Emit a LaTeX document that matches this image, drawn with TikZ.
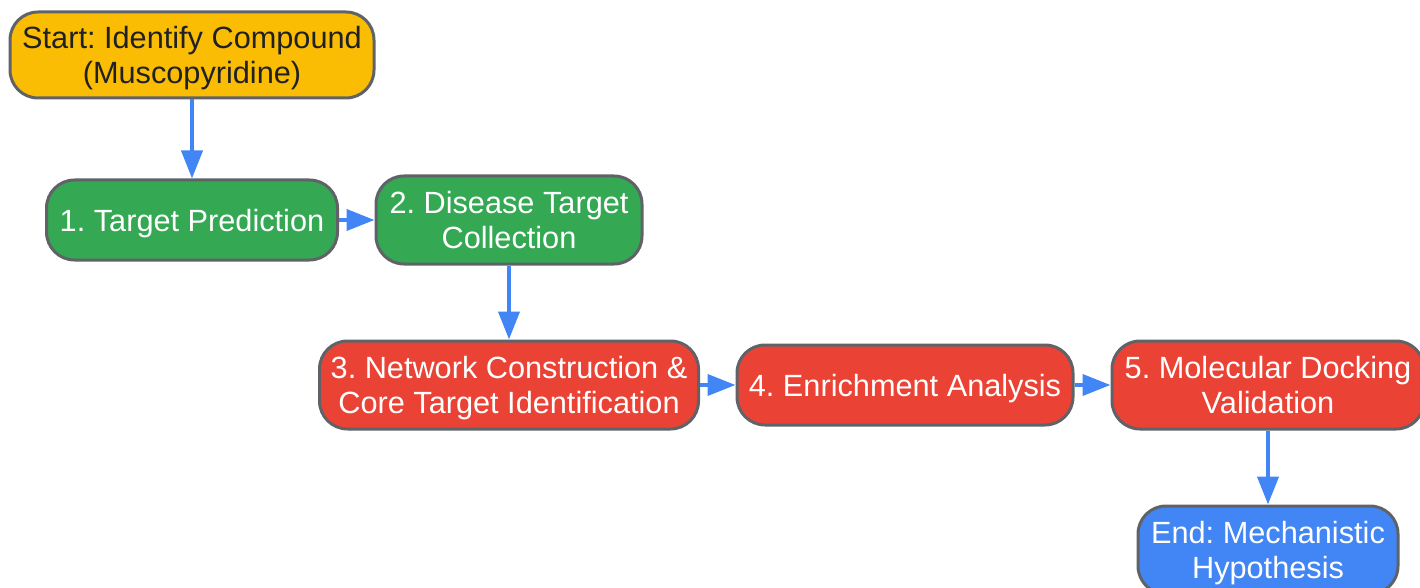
\documentclass[tikz,border=0pt]{standalone}
\usepackage{fontspec}
\setmainfont{Liberation Sans}
\usetikzlibrary{arrows.meta}
\definecolor{cY}{HTML}{FBBC04}
\definecolor{cG}{HTML}{34A853}
\definecolor{cR}{HTML}{EA4335}
\definecolor{cBl}{HTML}{4285F4}
\definecolor{cBorder}{HTML}{5F6368}
\definecolor{cText}{HTML}{202124}
\frenchspacing
\begin{document}
\begin{tikzpicture}[x=1pt,y=-1pt,
  box/.style={draw=cBorder, line width=3pt, rounded corners=28pt, align=center,
    font=\fontsize{30.7}{34.5}\selectfont\frenchspacing, inner sep=0pt, text=white, text depth=0pt},
  yel/.style={box, fill=cY, text=cText},
  grn/.style={box, fill=cG},
  red/.style={box, fill=cR},
  blu/.style={box, fill=cBl},
  arr/.style={draw=cBl, line width=4pt, -{Triangle[length=28pt,width=21pt]}}]
\useasboundingbox (0,0) rectangle (1420,588);
\node[yel, minimum width=364pt, minimum height=86pt] (start) at (192,55) {Start: Identify Compound\\(Muscopyridine)};
\node[grn, minimum width=291pt, minimum height=80pt] (n1) at (192,220) {1. Target Prediction};
\node[grn, minimum width=266pt, minimum height=88pt] (n2) at (509,220) {2. Disease Target\\Collection};
\node[red, minimum width=379pt, minimum height=88pt] (n3) at (509,385) {3. Network Construction \&\\Core Target Identification};
\node[red, minimum width=336pt, minimum height=80pt] (n4) at (905,385) {4. Enrichment Analysis};
\node[red, minimum width=312pt, minimum height=88pt] (n5) at (1268,385) {5. Molecular Docking\\Validation};
\node[blu, minimum width=260pt, minimum height=88pt] (end) at (1268,550) {End: Mechanistic\\Hypothesis};
\draw[arr] (start) -- (n1);
\draw[arr] (n1) -- (n2);
\draw[arr] (n2) -- (n3);
\draw[arr] (n3) -- (n4);
\draw[arr] (n4) -- (n5);
\draw[arr] (n5) -- (end);
\end{tikzpicture}
\end{document}
